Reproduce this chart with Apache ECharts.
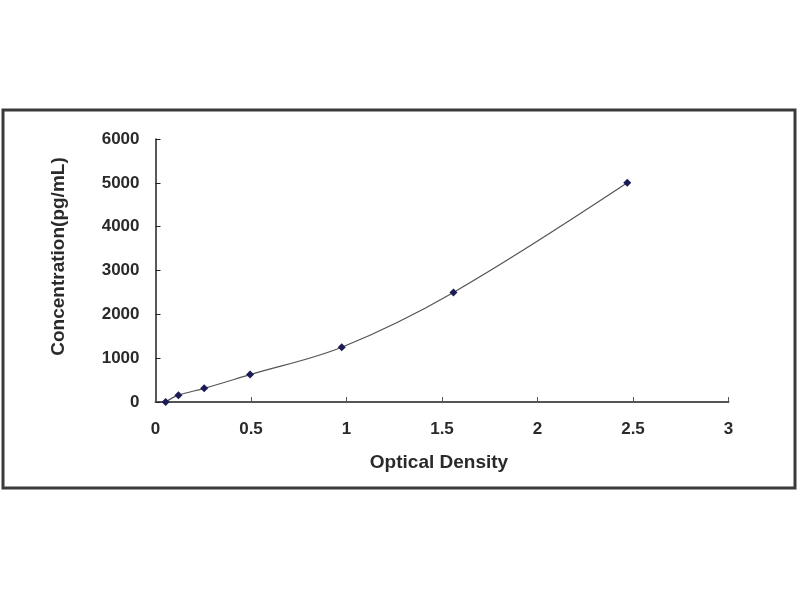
<!DOCTYPE html>
<html>
<head>
<meta charset="utf-8">
<script src="https://cdn.jsdelivr.net/npm/echarts@6/dist/echarts.min.js"></script>
<style>html,body{margin:0;padding:0;background:#fff;}#c{width:800px;height:600px;}</style>
</head>
<body>
<div id="c"></div>
<script>
const opticalDensity = [0.053, 0.12, 0.255, 0.495, 0.975, 1.56, 2.47];
const concentration = [0, 156, 312, 625, 1250, 2500, 5000];
const xTicks = [0, 0.5, 1, 1.5, 2, 2.5, 3];
const yTicks = [0, 1000, 2000, 3000, 4000, 5000, 6000];

const points = opticalDensity.map((x, i) => [x, concentration[i]]);
const chart = echarts.init(document.getElementById('c'));
const labelFont = {fontFamily: 'Liberation Sans, Arial, sans-serif', fontWeight: 'bold', fontSize: 17, color: '#2a2a2a'};
chart.setOption({
  backgroundColor: '#fff',
  animation: false,
  graphic: [{
    type: 'rect', shape: {x: 3, y: 110, width: 792, height: 378},
    style: {fill: 'none', stroke: '#3a3a3a', lineWidth: 3}, silent: true
  }],
  grid: {left: 155.5, right: 71.5, top: 139, bottom: 198},
  xAxis: {
    type: 'value', min: xTicks[0], max: xTicks[xTicks.length - 1], interval: 0.5,
    name: 'Optical Density', nameLocation: 'middle', nameGap: 51,
    nameTextStyle: Object.assign({}, labelFont, {fontSize: 19, padding: [0, 6, 0, 0]}),
    axisLine: {show: true, onZero: false, lineStyle: {color: '#555', width: 2}},
    axisTick: {show: true, inside: true, length: 5, lineStyle: {color: '#555'}},
    axisLabel: Object.assign({margin: 19, formatter: v => String(v)}, labelFont),
    splitLine: {show: false}
  },
  yAxis: {
    type: 'value', min: yTicks[0], max: yTicks[yTicks.length - 1], interval: 1000,
    name: 'Concentration(pg/mL)', nameLocation: 'middle', nameGap: 87, nameRotate: 90,
    nameTextStyle: Object.assign({}, labelFont, {fontSize: 19, padding: [0, 0, 0, 28]}),
    axisLine: {show: true, onZero: false, lineStyle: {color: '#222', width: 1.5}},
    axisTick: {show: true, inside: true, length: 5, lineStyle: {color: '#222'}},
    axisLabel: Object.assign({margin: 16, formatter: v => String(v)}, labelFont),
    splitLine: {show: false}
  },
  series: [{
    type: 'line', data: points, smooth: 0.35,
    symbol: 'diamond', symbolSize: 8,
    lineStyle: {color: '#555', width: 1.2},
    itemStyle: {color: '#1b1b55'}
  }]
});
</script>
</body>
</html>
